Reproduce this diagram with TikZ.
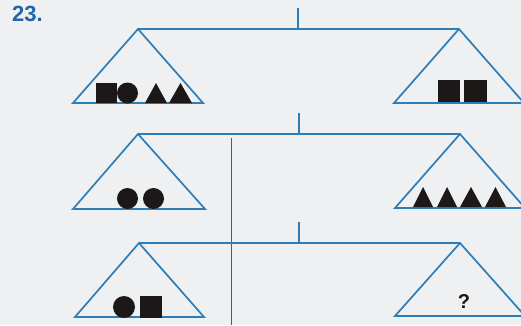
\documentclass[tikz,border=0pt]{standalone}
\usepackage{fontspec}
\setmainfont{Liberation Sans}
\definecolor{bg}{RGB}{238,240,242}
\definecolor{bl}{RGB}{45,125,185}
\definecolor{numc}{RGB}{35,100,170}
\definecolor{ink}{RGB}{28,24,24}
\begin{document}
\begin{tikzpicture}[x=1pt,y=-1pt,
  beam/.style={bl,line width=2.8pt},
  pan/.style={bl,line width=1.7pt,line join=miter},
  tick/.style={bl,line width=2.2pt},
  shp/.style={fill=ink,draw=none}]
\fill[bg] (0,0) rectangle (521,325);
\useasboundingbox (0,0) rectangle (521,325);
\node[numc,font=\bfseries\fontsize{22}{22}\selectfont,anchor=north west,inner sep=0pt] (num) at (12,6) {23.};
% stray vertical line
\coordinate (vtop) at (231,138);
\coordinate (vbot) at (231,325);
\draw[black!65,line width=0.8pt] (vtop) -- (vbot);
% scale 1
\coordinate (a1) at (138,29); \coordinate (b1) at (459,29);
\coordinate (t1) at (298,8); \coordinate (m1) at (298,29);
\draw[tick] (t1) -- (m1);
\draw[pan] (a1) -- (73,103) -- (203,103) -- cycle;
\draw[pan] (b1) -- (394,103) -- (524,103) -- cycle;
\draw[beam] (a1) -- (b1);
\fill[shp] (96,83) rectangle (117,103);
\fill[shp] (127.5,93) circle (10.5);
\fill[shp] (145,103) -- (156,83) -- (167,103) -- cycle;
\fill[shp] (169,103) -- (180.5,83) -- (192,103) -- cycle;
\fill[shp] (438,80) rectangle (460,102);
\fill[shp] (464,80) rectangle (487,102);
% scale 2
\coordinate (a2) at (138,134); \coordinate (b2) at (460,134);
\coordinate (t2) at (299,113); \coordinate (m2) at (299,134);
\draw[tick] (t2) -- (m2);
\draw[pan] (a2) -- (73,209) -- (205,209) -- cycle;
\draw[pan] (b2) -- (395,208) -- (525,208) -- cycle;
\draw[beam] (a2) -- (b2);
\fill[shp] (127.5,198.5) circle (10.5);
\fill[shp] (153.5,198.5) circle (10.5);
\fill[shp] (413,207) -- (423,187) -- (433,207) -- cycle;
\fill[shp] (437,207) -- (447,187) -- (457,207) -- cycle;
\fill[shp] (460,207) -- (471,187) -- (482,207) -- cycle;
\fill[shp] (485,207) -- (495.5,187) -- (506,207) -- cycle;
% scale 3
\coordinate (a3) at (139,243); \coordinate (b3) at (460,243);
\coordinate (t3) at (299,222); \coordinate (m3) at (299,243);
\draw[tick] (t3) -- (m3);
\draw[pan] (a3) -- (75,317) -- (204,317) -- cycle;
\draw[pan] (b3) -- (395,316) -- (525,316) -- cycle;
\draw[beam] (a3) -- (b3);
\fill[shp] (124,307) circle (11);
\fill[shp] (140,296) rectangle (162,318);
\node[ink,font=\bfseries\fontsize{20}{20}\selectfont,inner sep=0pt] (q) at (464,302) {?};
\end{tikzpicture}
\end{document}
